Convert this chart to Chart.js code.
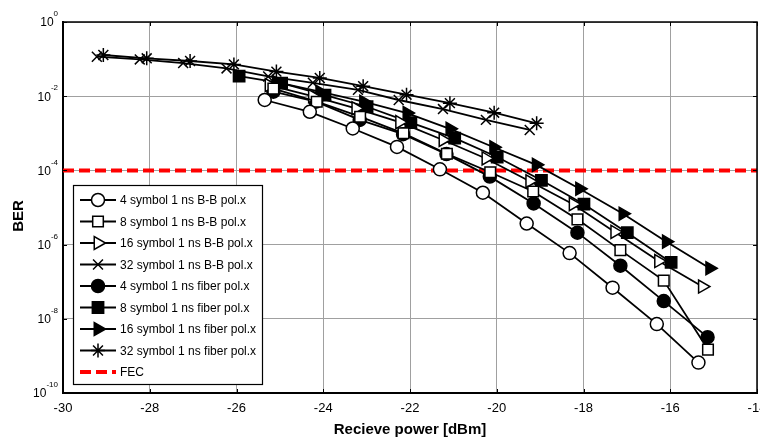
<!DOCTYPE html>
<html>
<head>
<meta charset="utf-8">
<script src="https://cdn.jsdelivr.net/npm/chart.js@4.4.1/dist/chart.umd.min.js"></script>
<style>
  html, body { margin: 0; padding: 0; background: #fff; }
</style>
</head>
<body>
<canvas id="berChart" width="760" height="440"></canvas>
<script>
// received power (dBm) and BER for each configuration
const bb4Power = [-25.35, -24.31, -23.32, -22.30, -21.31, -20.32, -19.31, -18.32, -17.33, -16.31, -15.35];
const bb4Ber = [7.9e-3, 3.8e-3, 1.35e-3, 4.3e-4, 1.07e-4, 2.5e-5, 3.7e-6, 5.9e-7, 6.9e-8, 7.2e-9, 6.6e-10];

const bb8Power = [-25.15, -24.15, -23.15, -22.15, -21.15, -20.15, -19.16, -18.14, -17.15, -16.15, -15.13];
const bb8Ber = [1.6e-2, 7.1e-3, 2.8e-3, 1.0e-3, 2.8e-4, 8.9e-5, 2.7e-5, 4.8e-6, 7.1e-7, 1.07e-7, 1.48e-9];

const bb16Power = [-25.25, -24.25, -23.25, -22.24, -21.24, -20.25, -19.24, -18.24, -17.28, -16.27, -15.26];
const bb16Ber = [2.0e-2, 1.0e-2, 4.7e-3, 2.0e-3, 6.6e-4, 2.1e-4, 5.1e-5, 1.23e-5, 2.2e-6, 3.6e-7, 7.4e-8];

const bb32Power = [-29.22, -28.23, -27.23, -26.23, -25.27, -24.24, -23.20, -22.26, -21.24, -20.25, -19.24];
const bb32Ber = [0.116, 0.098, 0.078, 0.056, 0.034, 0.023, 0.0148, 0.0079, 0.0045, 0.0023, 0.00123];

const fib4Power = [-25.15, -24.17, -23.16, -22.16, -21.16, -20.16, -19.15, -18.14, -17.15, -16.15, -15.14];
const fib4Ber = [1.32e-2, 7.1e-3, 2.3e-3, 9.5e-4, 2.75e-4, 6.8e-5, 1.29e-5, 2.1e-6, 2.7e-7, 3.0e-8, 3.2e-9];

const fib8Power = [-25.94, -24.96, -23.96, -22.99, -21.98, -20.97, -19.99, -18.97, -17.99, -16.99, -15.98];
const fib8Ber = [0.0347, 0.0224, 0.0107, 0.0052, 0.00195, 7.4e-4, 2.3e-4, 5.4e-5, 1.23e-5, 2.1e-6, 3.3e-7];

const fib16Power = [-25.08, -24.08, -23.07, -22.07, -21.08, -20.07, -19.09, -18.09, -17.09, -16.09, -15.09];
const fib16Ber = [0.024, 0.0132, 0.0071, 0.0035, 0.00132, 4.2e-4, 1.41e-4, 3.2e-5, 6.8e-6, 1.2e-6, 2.3e-7];

const fib32Power = [-29.07, -28.07, -27.07, -26.06, -25.08, -24.08, -23.08, -22.08, -21.08, -20.06, -19.08];
const fib32Ber = [0.129, 0.105, 0.089, 0.072, 0.046, 0.031, 0.0186, 0.011, 0.0065, 0.0036, 0.00186];

const fecPower = [-30, -14];
const fecBer = [1e-4, 1e-4];

const seriesLabels = [
  '4 symbol 1 ns B-B pol.x', '8 symbol 1 ns B-B pol.x', '16 symbol 1 ns B-B pol.x', '32 symbol 1 ns B-B pol.x',
  '4 symbol 1 ns fiber pol.x', '8 symbol 1 ns fiber pol.x', '16 symbol 1 ns fiber pol.x', '32 symbol 1 ns fiber pol.x',
  'FEC'
];
const xTickValues = [-30, -28, -26, -24, -22, -20, -18, -16, -14];
const yTickExponents = [0, -2, -4, -6, -8, -10];

const FONT = '"Liberation Sans", Arial, sans-serif';

function pts(xs, ys) {
  return xs.map((x, i) => ({ x: x, y: ys[i] }));
}

// marker look for every curve
function curve(label, xs, ys, style, filled, radius, rotation) {
  return {
    label: label,
    data: pts(xs, ys),
    showLine: true,
    borderColor: '#000',
    borderWidth: 1.8,
    pointStyle: style,
    pointRadius: radius,
    pointRotation: rotation || 0,
    pointBackgroundColor: filled ? '#000' : '#fff',
    pointBorderColor: '#000',
    pointBorderWidth: 1.5
  };
}

const datasets = [
  curve(seriesLabels[0], bb4Power, bb4Ber, 'circle', false, 6.5),
  curve(seriesLabels[1], bb8Power, bb8Ber, 'rect', false, 7.5),
  curve(seriesLabels[2], bb16Power, bb16Ber, 'triangle', false, 7.5, 90),
  curve(seriesLabels[3], bb32Power, bb32Ber, 'crossRot', false, 7),
  curve(seriesLabels[4], fib4Power, fib4Ber, 'circle', true, 6.5),
  curve(seriesLabels[5], fib8Power, fib8Ber, 'rect', true, 8),
  curve(seriesLabels[6], fib16Power, fib16Ber, 'triangle', true, 7.5, 90),
  curve(seriesLabels[7], fib32Power, fib32Ber, 'star', false, 7),
  {
    label: seriesLabels[8],
    data: pts(fecPower, fecBer),
    showLine: true,
    borderColor: '#ff0000',
    borderWidth: 4,
    borderDash: [11, 5],
    pointRadius: 0
  }
];

// tick labels, box edges, inward ticks, axis titles and the legend
const matlabFrame = {
  id: 'matlabFrame',
  afterDraw(chart) {
    const { ctx, chartArea: { left, right, top, bottom }, scales: { x, y } } = chart;
    ctx.save();

    // top and right edges of the box
    ctx.strokeStyle = '#000';
    ctx.lineWidth = 1.5;
    ctx.beginPath();
    ctx.moveTo(left, top);
    ctx.lineTo(right, top);
    ctx.lineTo(right, bottom);
    ctx.stroke();

    // inward tick marks on all four sides
    ctx.lineWidth = 1;
    ctx.beginPath();
    xTickValues.forEach(v => {
      const px = Math.round(x.getPixelForValue(v)) + 0.5;
      ctx.moveTo(px, top); ctx.lineTo(px, top + 4);
      ctx.moveTo(px, bottom); ctx.lineTo(px, bottom - 4);
    });
    yTickExponents.forEach(e => {
      const py = Math.round(y.getPixelForValue(Math.pow(10, e))) + 0.5;
      ctx.moveTo(left, py); ctx.lineTo(left + 4, py);
      ctx.moveTo(right, py); ctx.lineTo(right - 4, py);
    });
    ctx.stroke();

    // x tick labels
    ctx.fillStyle = '#000';
    ctx.font = '13px ' + FONT;
    ctx.textAlign = 'center';
    ctx.textBaseline = 'middle';
    xTickValues.forEach(v => {
      ctx.fillText(String(v), x.getPixelForValue(v), bottom + 15);
    });

    // y tick labels with superscript exponents
    yTickExponents.forEach(e => {
      const py = y.getPixelForValue(Math.pow(10, e));
      const exp = String(e);
      ctx.font = '8px ' + FONT;
      const ew = ctx.measureText(exp).width;
      ctx.textAlign = 'right';
      ctx.fillText(exp, 58, py - 8);
      ctx.font = '12px ' + FONT;
      ctx.fillText('10', 58 - ew, py + 1);
    });

    // axis titles
    ctx.font = 'bold 15px ' + FONT;
    ctx.textAlign = 'center';
    ctx.fillText('Recieve power [dBm]', (left + right) / 2, 430);
    ctx.save();
    ctx.translate(19, 216);
    ctx.rotate(-Math.PI / 2);
    ctx.fillText('BER', 0, 0);
    ctx.restore();

    // legend box
    const lx = 73, ly = 185, lw = 189, lh = 199;
    ctx.fillStyle = '#fff';
    ctx.fillRect(lx, ly, lw, lh);
    ctx.strokeStyle = '#000';
    ctx.lineWidth = 1.2;
    ctx.strokeRect(lx + 0.5, ly + 0.5, lw, lh);

    chart.data.datasets.forEach((ds, i) => {
      const cy = 200 + i * 21.5;
      ctx.save();
      ctx.strokeStyle = ds.borderColor;
      ctx.lineWidth = ds.borderWidth;
      ctx.setLineDash(ds.borderDash || []);
      ctx.beginPath();
      ctx.moveTo(80, cy);
      ctx.lineTo(116, cy);
      ctx.stroke();
      ctx.setLineDash([]);
      if (ds.pointRadius > 0) {
        ctx.fillStyle = ds.pointBackgroundColor;
        ctx.strokeStyle = ds.pointBorderColor;
        ctx.lineWidth = ds.pointBorderWidth;
        Chart.helpers.drawPoint(ctx, {
          pointStyle: ds.pointStyle,
          radius: ds.pointRadius,
          rotation: ds.pointRotation,
          borderWidth: ds.pointBorderWidth
        }, 98, cy);
      }
      ctx.restore();
      ctx.fillStyle = '#000';
      ctx.font = '12px ' + FONT;
      ctx.textAlign = 'left';
      ctx.textBaseline = 'middle';
      ctx.fillText(ds.label, 120, cy + 1);
    });

    ctx.restore();
  }
};

const config = {
  type: 'scatter',
  data: { datasets },
  options: {
    responsive: false,
    animation: false,
    devicePixelRatio: 1,
    layout: { autoPadding: false, padding: { top: 22, right: 3, left: 0, bottom: 0 } },
    plugins: {
      legend: { display: false },
      tooltip: { enabled: false }
    },
    scales: {
      x: {
        type: 'linear',
        min: -30,
        max: -14,
        afterBuildTicks: (scale) => { scale.ticks = xTickValues.map(v => ({ value: v })); },
        afterFit: (scale) => { scale.height = 47; },
        ticks: { display: false },
        grid: { color: '#a0a0a0', lineWidth: 1, drawTicks: false },
        border: { color: '#000', width: 2 }
      },
      y: {
        type: 'logarithmic',
        min: 1e-10,
        max: 1,
        afterBuildTicks: (scale) => { scale.ticks = yTickExponents.map(e => ({ value: Math.pow(10, e) })); },
        afterFit: (scale) => { scale.width = 63; },
        ticks: { display: false },
        grid: { color: '#a0a0a0', lineWidth: 1, drawTicks: false },
        border: { color: '#000', width: 2 }
      }
    }
  },
  plugins: [matlabFrame]
};

const berChart = new Chart(document.getElementById('berChart'), config);
</script>
</body>
</html>
